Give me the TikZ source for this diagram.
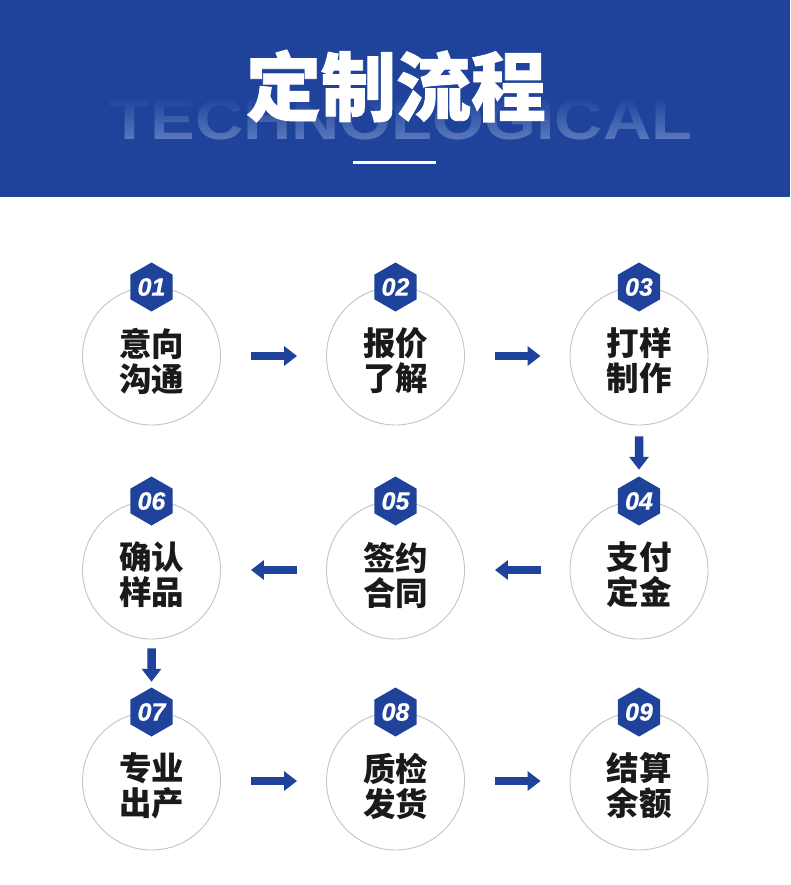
\documentclass[tikz,border=0pt]{standalone}
\usepackage{fontspec}
\usepackage{graphicx}
\setmainfont{Liberation Sans}
\newfontfamily\cjk{Noto Sans CJK SC}
\newfontfamily\cjktitle{Noto Sans CJK SC}[BoldFeatures={FakeBold=1.2}]
\newfontfamily\numfont{Liberation Sans}[BoldItalicFeatures={FakeBold=0.6}]
\usetikzlibrary{shapes.geometric,arrows.meta,fadings}
\definecolor{brandblue}{HTML}{1F439B}
\definecolor{ghost}{HTML}{5F7DC0}
\definecolor{ringgray}{HTML}{C4C4C4}
\definecolor{txt}{HTML}{1A1A1A}
\tikzset{
  x=1pt, y=-1pt,
  stepcircle/.style={circle, draw=ringgray, line width=0.9pt, fill=white, minimum size=138pt, inner sep=0pt},
  steptext/.style={text=txt, align=center, font=\cjk\bfseries\fontsize{32.5}{35}\selectfont},
  badge/.style={regular polygon, regular polygon sides=6, shape border rotate=30, fill=brandblue, minimum size=49pt, inner sep=0pt, text=white, font=\numfont\bfseries\itshape\fontsize{25}{25}\selectfont},
  flowarrow/.style={draw=brandblue, line width=8.5pt, -{Triangle[length=13pt,width=19pt]}},
}
\begin{document}
\begin{tikzpicture}
\useasboundingbox (0,0) rectangle (790,885);
\fill[white] (0,0) rectangle (790,885);
% header
\fill[brandblue] (0,0) rectangle (790,197);
\node[anchor=base, text=ghost, inner sep=0pt] (ghosttxt) at (401,140) {\resizebox{582pt}{40pt}{\bfseries TECHNOLOGICAL}};
\fill[brandblue, path fading=south] (100,97) rectangle (700,143);
\node[text=white, inner sep=0pt, font=\cjktitle\bfseries\fontsize{75}{75}\selectfont] (title) at (396,86) {定制流程};
\fill[white] (353,161.5) rectangle (436,164.5);
% circles
\foreach \n/\x/\y/\a/\b in {1/151.5/356/意向/沟通, 2/395.5/356/报价/了解, 3/639/356/打样/制作,
  4/639/570/支付/定金, 5/395.5/570/签约/合同, 6/151.5/570/确认/样品,
  7/151.5/781/专业/出产, 8/395.5/781/质检/发货, 9/639/781/结算/余额}{
  \node[stepcircle] (c\n) at (\x,\y) {};
  \node[steptext] (t\n) at (\x,\y+5) {\a\\\b};
  \node[badge] (b\n) at (\x,\y-69) {0\n};
}
% arrows
\draw[flowarrow, shorten <=30pt, shorten >=29pt] (c1) -- (c2);
\draw[flowarrow, shorten <=30pt, shorten >=29pt] (c2) -- (c3);
\draw[flowarrow, shorten <=11pt, shorten >=6.5pt] (c3) -- (b4);
\draw[flowarrow, shorten <=29pt, shorten >=30pt] (c4) -- (c5);
\draw[flowarrow, shorten <=29pt, shorten >=30pt] (c5) -- (c6);
\draw[flowarrow, shorten <=9pt, shorten >=5.5pt] (c6) -- (b7);
\draw[flowarrow, shorten <=30pt, shorten >=29pt] (c7) -- (c8);
\draw[flowarrow, shorten <=30pt, shorten >=29pt] (c8) -- (c9);
\end{tikzpicture}
\end{document}
